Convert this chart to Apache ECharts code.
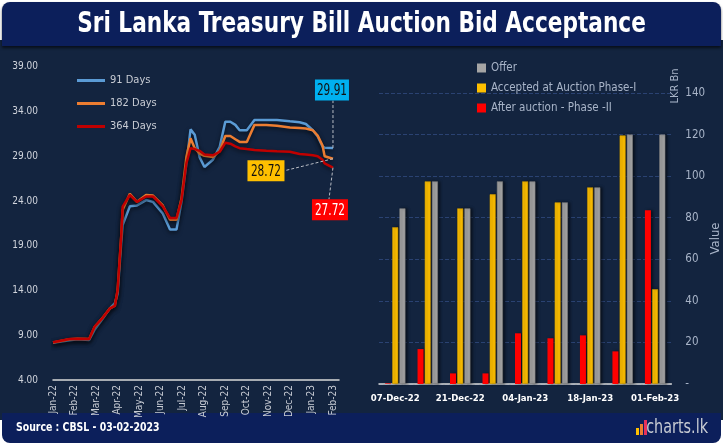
<!DOCTYPE html>
<html><head><meta charset="utf-8">
<script src="https://cdn.jsdelivr.net/npm/echarts@6/dist/echarts.min.js"></script>
<style>html,body{margin:0;padding:0;background:#fff}#c{width:723px;height:443px}</style>
</head><body><div id="c"></div>
<script>
const FONT = "'Liberation Sans Narrow','DejaVu Sans Condensed','Roboto Condensed','Arial Narrow',sans-serif";

// ---------- Left chart: T-bill yields (%) ----------
const monthLabels = ['Jan-22','Feb-22','Mar-22','Apr-22','May-22','Jun-22','Jul-22','Aug-22','Sep-22','Oct-22','Nov-22','Dec-22','Jan-23','Feb-23'];
const rateDates = ['2022-01-01','2022-01-25','2022-02-05','2022-02-20','2022-02-27','2022-03-11','2022-03-21','2022-03-28','2022-04-01','2022-04-06','2022-04-08','2022-04-18','2022-04-28','2022-05-11','2022-05-21','2022-06-04','2022-06-14','2022-06-23','2022-06-30','2022-07-07','2022-07-13','2022-07-19','2022-07-26','2022-08-02','2022-08-14','2022-08-24','2022-09-01','2022-09-08','2022-09-15','2022-09-21','2022-10-01','2022-10-12','2022-10-29','2022-11-13','2022-12-01','2022-12-15','2022-12-24','2023-01-03','2023-01-10','2023-01-17','2023-01-20','2023-02-01'];
const rate91  = [8.17,8.45,8.54,8.47,9.6,10.9,12.0,12.6,13.6,19.3,21.3,23.4,23.5,24.1,23.9,22.6,20.8,20.8,23.9,28.2,32.0,31.4,28.9,27.8,28.6,30.06,32.85,32.85,32.5,31.9,31.9,33.04,33.04,33.04,32.9,32.8,32.6,31.9,31.2,30.06,29.95,29.91];
const rate182 = [8.2,8.55,8.6,8.58,9.9,11.0,12.0,12.3,14.0,20.0,23.0,24.8,23.9,24.67,24.6,23.5,21.9,21.9,24.3,28.9,31.0,29.9,29.3,29.05,28.9,29.6,31.26,31.26,30.9,30.6,30.6,32.5,32.5,32.4,32.2,32.15,32.1,31.9,31.3,30.2,29.0,28.72];
const rate364 = [8.21,8.58,8.6,8.58,9.95,11.0,12.0,12.27,14.05,20.0,23.36,24.67,23.9,24.5,24.5,23.4,22.1,22.1,24.1,28.2,29.9,29.8,29.6,29.2,29.1,29.5,30.5,30.4,30.1,29.9,29.8,29.7,29.6,29.55,29.5,29.25,29.2,29.1,29.0,28.6,28.2,27.72];

// ---------- Right chart: auction amounts (LKR Bn) ----------
const auctionDates = ['07-Dec-22','14-Dec-22','21-Dec-22','28-Dec-22','04-Jan-23','11-Jan-23','18-Jan-23','25-Jan-23','01-Feb-23'];
const offer          = [84.5, 97.5, 84.5, 97.5, 97.5, 87.4, 94.6, 120, 120];
const acceptedPhase1 = [75.4, 97.5, 84.5, 91.3, 97.5, 87.4, 94.6, 119.6, 45.6];
const afterPhase2    = [0.3, 16.8, 5.1, 5.1, 24.4, 22.0, 23.4, 15.7, 83.6];

function monthIndex(s) {
  const [y, m, d] = s.split('-').map(Number);
  const dim = new Date(y, m, 0).getDate();
  return (y - 2022) * 12 + (m - 1) + (d - 1) / dim;
}
function pairs(vals) { return rateDates.map((d, i) => [monthIndex(d), vals[i]]); }

const chart = echarts.init(document.getElementById('c'));

const bg = [
  { type: 'rect', z: -20, shape: { x: 0, y: 40, width: 723, height: 380 }, style: { fill: '#13243f' } },
  { type: 'rect', z: -10, shape: { x: 2, y: 2, width: 719, height: 44, r: [8, 8, 0, 0] }, style: { fill: '#0c1f5b', shadowColor: 'rgba(0,0,0,0.6)', shadowBlur: 3, shadowOffsetY: 2 } },
  { type: 'rect', z: -10, shape: { x: 2, y: 413, width: 719, height: 30, r: [0, 0, 8, 8] }, style: { fill: '#0c1f5b' } },
  { type: 'text', z: 10, x: 361.5, y: 24, scaleX: 0.83, style: { text: 'Sri Lanka Treasury Bill Auction Bid Acceptance', fill: '#ffffff', fontSize: 29, fontWeight: 'bold', fontFamily: FONT, align: 'center', verticalAlign: 'middle' } },
  { type: 'text', z: 10, x: 16, y: 428, scaleX: 0.8, style: { text: 'Source : CBSL - 03-02-2023', fill: '#ffffff', fontSize: 13, fontWeight: 'bold', fontFamily: FONT, align: 'left', verticalAlign: 'middle' } },
  { type: 'text', z: 10, x: 708, y: 428, scaleX: 0.8, style: { text: 'charts.lk', fill: '#c6cad2', fontSize: 20, fontFamily: FONT, align: 'right', verticalAlign: 'middle' } },
  { type: 'rect', z: 10, shape: { x: 636, y: 428, width: 3, height: 7 }, style: { fill: '#ffc000' } },
  { type: 'rect', z: 10, shape: { x: 640, y: 424, width: 3, height: 11 }, style: { fill: '#ed7d31' } },
  { type: 'rect', z: 10, shape: { x: 644, y: 420, width: 3, height: 15 }, style: { fill: '#e8305a' } },
  { type: 'text', z: 10, x: 675, y: 86, rotation: Math.PI / 2, style: { text: 'LKR Bn', fill: '#a8b4c8', fontSize: 11, fontFamily: FONT, align: 'center', verticalAlign: 'middle' } }
];

const lineShadow = { shadowColor: 'rgba(0,0,0,0.55)', shadowBlur: 4, shadowOffsetY: 2 };
const barShadow = { shadowColor: 'rgba(0,0,0,0.55)', shadowBlur: 3, shadowOffsetX: 2 };

chart.setOption({
  animation: false,
  backgroundColor: '#ffffff',
  textStyle: { fontFamily: FONT },
  legend: [
    { data: ['91 Days', '182 Days', '364 Days'], orient: 'vertical', left: 72, top: 70, itemWidth: 28, itemHeight: 3, itemGap: 12, icon: 'rect',
      itemStyle: { borderWidth: 0, shadowBlur: 0 },
      textStyle: { color: '#c8ccd4', fontSize: 11, fontFamily: FONT } },
    { data: ['Offer', 'Accepted at Auction Phase-I', 'After auction - Phase -II'], orient: 'vertical', left: 472, top: 57, itemWidth: 9, itemHeight: 9, itemGap: 8, icon: 'rect',
      itemStyle: { borderWidth: 0, shadowBlur: 0, shadowOffsetX: 0 },
      textStyle: { color: '#a8b4c8', fontSize: 11.5, fontFamily: FONT } }
  ],
  grid: [
    { left: 53, right: 384, top: 66.7, bottom: 63 },
    { left: 379, right: 47, top: 93, bottom: 59 }
  ],
  xAxis: [
    { type: 'value', gridIndex: 0, min: 0, max: 13.28, interval: 1, splitLine: { show: false },
      axisLine: { show: true, onZero: false, lineStyle: { color: '#d9d9d9', width: 1.5 } }, axisTick: { show: false },
      axisLabel: { rotate: 90, color: '#c8ccd4', fontSize: 10, fontFamily: FONT, margin: 5, showMaxLabel: false,
        formatter: v => (Math.abs(v - Math.round(v)) < 1e-6 && monthLabels[Math.round(v)]) ? monthLabels[Math.round(v)] : '' } },
    { type: 'category', gridIndex: 1, data: auctionDates,
      axisLine: { lineStyle: { color: '#d9d9d9', width: 1.5 } }, axisTick: { show: false },
      axisLabel: { interval: 1, color: '#ffffff', fontSize: 9.5, fontWeight: 'bold', fontFamily: FONT, margin: 10 } }
  ],
  yAxis: [
    { type: 'value', gridIndex: 0, min: 4, max: 39, interval: 5, splitLine: { show: false },
      axisLine: { show: false }, axisTick: { show: false },
      axisLabel: { color: '#d0d4dc', fontSize: 10, fontFamily: FONT, margin: 15, formatter: v => v.toFixed(2) } },
    { type: 'value', gridIndex: 1, position: 'right', min: 0, max: 140, interval: 20,
      name: 'Value', nameLocation: 'middle', nameGap: 34, nameRotate: 90, nameTextStyle: { color: '#a8b4c8', fontSize: 13, fontFamily: FONT },
      splitLine: { lineStyle: { color: '#2a4272', type: 'dashed' } },
      axisLine: { show: false }, axisTick: { show: false },
      axisLabel: { color: '#a8b4c8', fontSize: 11.5, fontFamily: FONT, margin: 14, formatter: v => v === 0 ? '-' : String(v) } }
  ],
  series: [
    { name: '91 Days', type: 'line', xAxisIndex: 0, yAxisIndex: 0, data: pairs(rate91), symbol: 'none', color: '#5b9bd5', lineStyle: Object.assign({ width: 2.5 }, lineShadow), z: 3 },
    { name: '182 Days', type: 'line', xAxisIndex: 0, yAxisIndex: 0, data: pairs(rate182), symbol: 'none', color: '#ed7d31', lineStyle: Object.assign({ width: 2.5 }, lineShadow), z: 4 },
    { name: '364 Days', type: 'line', xAxisIndex: 0, yAxisIndex: 0, data: pairs(rate364), symbol: 'none', color: '#c00000', lineStyle: Object.assign({ width: 2.5 }, lineShadow), z: 5 },
    { name: 'After auction - Phase -II', type: 'bar', xAxisIndex: 1, yAxisIndex: 1, data: afterPhase2, barWidth: 6, barGap: '20%', color: '#ff0000', itemStyle: barShadow },
    { name: 'Accepted at Auction Phase-I', type: 'bar', xAxisIndex: 1, yAxisIndex: 1, data: acceptedPhase1, barWidth: 6, barGap: '20%', color: '#ffc000', itemStyle: Object.assign({ borderColor: '#c89600', borderWidth: 0.6 }, barShadow) },
    { name: 'Offer', type: 'bar', xAxisIndex: 1, yAxisIndex: 1, data: offer, barWidth: 6, barGap: '20%', color: '#a5a5a5', itemStyle: Object.assign({ borderColor: '#7f7f7f', borderWidth: 0.6 }, barShadow) }
  ],
  graphic: { elements: bg }
});

// Callout boxes for the latest yields, anchored to the last data point of each line
function callout(id, vals, dx, dy, w, fill, txtColor, fromBox) {
  const last = rateDates.length - 1;
  const p = chart.convertToPixel({ xAxisIndex: 0, yAxisIndex: 0 }, [monthIndex(rateDates[last]), vals[last]]);
  const cx = p[0] + dx, cy = p[1] + dy, h = 21;
  const anchor = fromBox(cx, cy, w, h);
  return [
    { type: 'line', id: id + 'l', z: 20, shape: { x1: p[0], y1: p[1], x2: anchor[0], y2: anchor[1] }, style: { stroke: '#b8bcc4', lineWidth: 1, lineDash: [3, 2] } },
    { type: 'rect', id: id + 'r', z: 21, shape: { x: cx - w / 2, y: cy - h / 2, width: w, height: h }, style: { fill: fill } },
    { type: 'text', id: id + 't', z: 22, x: cx, y: cy + 1, scaleX: 0.78, style: { text: vals[last].toFixed(2), fill: txtColor, fontSize: 15, fontFamily: FONT, align: 'center', verticalAlign: 'middle' } }
  ];
}
const callouts = [].concat(
  callout('c91', rate91, -1, -58, 34, '#00b0f0', '#101010', (x, y, w, h) => [x + 1, y + h / 2]),
  callout('c182', rate182, -67, 12, 37, '#ffc000', '#101010', (x, y, w, h) => [x + w / 2, y]),
  callout('c364', rate364, -3, 42, 36, '#ff0000', '#ffffff', (x, y, w, h) => [x - 1, y - h / 2])
);
chart.setOption({ graphic: { elements: bg.concat(callouts) } });
</script></body></html>
